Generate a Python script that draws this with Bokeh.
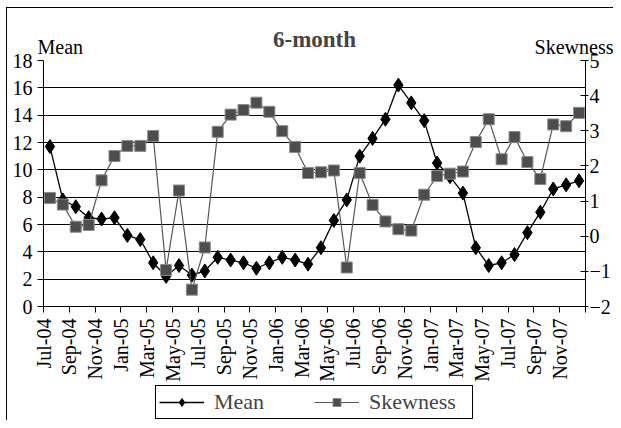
import math
from bokeh.plotting import figure
from bokeh.layouts import column
from bokeh.models import (Range1d, LinearAxis, FixedTicker, Legend, LegendItem)
from bokeh.embed import file_html
from bokeh.resources import INLINE

months = ["Jul-04", "Aug-04", "Sep-04", "Oct-04", "Nov-04", "Dec-04",
          "Jan-05", "Feb-05", "Mar-05", "Apr-05", "May-05", "Jun-05",
          "Jul-05", "Aug-05", "Sep-05", "Oct-05", "Nov-05", "Dec-05",
          "Jan-06", "Feb-06", "Mar-06", "Apr-06", "May-06", "Jun-06",
          "Jul-06", "Aug-06", "Sep-06", "Oct-06", "Nov-06", "Dec-06",
          "Jan-07", "Feb-07", "Mar-07", "Apr-07", "May-07", "Jun-07",
          "Jul-07", "Aug-07", "Sep-07", "Oct-07", "Nov-07", "Dec-07"]

mean = [11.7, 7.8, 7.3, 6.5, 6.4, 6.5, 5.2, 4.9, 3.2, 2.2, 3.0, 2.3,
        2.6, 3.6, 3.4, 3.2, 2.8, 3.2, 3.6, 3.4, 3.1, 4.3, 6.3, 7.8,
        11.0, 12.3, 13.7, 16.2, 14.9, 13.6, 10.5, 9.5, 8.3, 4.3, 3.0, 3.2,
        3.8, 5.4, 6.9, 8.6, 8.9, 9.2]

skewness = [1.09, 0.90, 0.27, 0.32, 1.59, 2.28, 2.57, 2.57, 2.85, -0.96, 1.30, -1.52,
            -0.32, 2.97, 3.46, 3.59, 3.80, 3.54, 2.99, 2.54, 1.80, 1.82, 1.87, -0.89,
            1.80, 0.89, 0.42, 0.20, 0.16, 1.18, 1.71, 1.78, 1.84, 2.68, 3.33, 2.19,
            2.82, 2.11, 1.63, 3.18, 3.13, 3.51]

mean_ticks = list(range(0, 19, 2))
skew_ticks = list(range(-2, 6))
title_text = "6-month"
left_title = "Mean"
right_title = "Skewness"

FONT = "Liberation Serif"

x = [i + 0.5 for i in range(len(months))]
n = len(months)

p = figure(width=613, height=384, output_backend="svg", toolbar_location=None,
           x_range=Range1d(0, n), y_range=Range1d(0, 18),
           min_border_left=43, min_border_right=20, min_border_top=60,
           min_border_bottom=78, outline_line_color=None,
           border_fill_alpha=0, background_fill_color="white")
p.extra_y_ranges = {"skew": Range1d(-2, 5)}

xa = p.below[0]
ya = p.left[0]

# title
p.title.text = title_text
p.title.align = "center"
p.title.text_font = FONT
p.title.text_font_size = "23px"
p.title.text_font_style = "bold"
p.title.standoff = -38

# axis titles as a label-only axis above the frame
ta = LinearAxis(ticker=FixedTicker(ticks=[1.3, 42.0]),
                major_label_overrides={1.3: left_title, 42.0: right_title})
ta.axis_line_color = None
ta.major_tick_line_color = None
ta.minor_tick_line_color = None
ta.major_tick_in = 0
ta.major_tick_out = 0
ta.major_label_standoff = 3
ta.major_label_text_font = FONT
ta.major_label_text_font_size = "20px"
ta.major_label_text_color = "black"
p.add_layout(ta, "above")

# x axis
xt = list(range(0, n + 1, 2))
xa.ticker = FixedTicker(ticks=xt)
xa.major_label_overrides = {t: (months[t] if t < n else "") for t in xt}
xa.major_label_orientation = math.pi / 2
xa.minor_tick_line_color = None
xa.major_tick_in = 0
xa.major_tick_out = 6
xa.major_label_standoff = 6

# left axis
ya.ticker = FixedTicker(ticks=mean_ticks)
ya.minor_tick_line_color = None
ya.major_tick_in = 0
ya.major_tick_out = 6
ya.major_label_standoff = 5

# right axis
ra = LinearAxis(y_range_name="skew", ticker=FixedTicker(ticks=skew_ticks))
ra.minor_tick_line_color = None
ra.major_tick_in = 5
ra.major_tick_out = 3
ra.major_label_standoff = 1
p.add_layout(ra, "right")

for ax in [xa, ya, ra]:
    ax.major_label_text_font = FONT
    ax.major_label_text_font_size = "20px"
    ax.major_label_text_color = "black"
    ax.axis_line_color = "black"
    ax.major_tick_line_color = "black"

p.xgrid.grid_line_color = None
p.ygrid.grid_line_color = "black"
p.ygrid.grid_line_width = 1

# series
MEAN_STYLE = dict(line_color="black", line_width=1.3)
MEAN_MARK = dict(marker="diamond", size=14, fill_color="black", line_color="black")
SKEW_STYLE = dict(line_color="#555555", line_width=1.2)
SKEW_MARK = dict(marker="square", size=11, fill_color="#4d4d4d", line_color="#8a8a8a", line_width=1)

p.line(x, mean, **MEAN_STYLE)
p.scatter(x, mean, **MEAN_MARK)
p.line(x, skewness, y_range_name="skew", **SKEW_STYLE)
p.scatter(x, skewness, y_range_name="skew", **SKEW_MARK)

# legend strip below the chart (series re-drawn out of view as legend proxies)
p2 = figure(width=613, height=36, output_backend="svg", toolbar_location=None,
            x_range=Range1d(0, n), y_range=Range1d(-100, -99),
            x_axis_type=None, y_axis_type=None, min_border=0,
            outline_line_color=None, border_fill_alpha=0, background_fill_alpha=0)
p2.xgrid.grid_line_color = None
p2.ygrid.grid_line_color = None
l1 = p2.line(x, mean, **MEAN_STYLE)
m1 = p2.scatter(x, mean, **MEAN_MARK)
l2 = p2.line(x, skewness, **SKEW_STYLE)
m2 = p2.scatter(x, skewness, **SKEW_MARK)
legend = Legend(items=[LegendItem(label=left_title, renderers=[l1, m1]),
                       LegendItem(label=right_title, renderers=[l2, m2])],
                orientation="horizontal", location="center",
                label_text_font=FONT, label_text_font_size="22px",
                glyph_width=45, label_standoff=10, label_width=100, spacing=0,
                padding=3, border_line_color="black", border_line_width=1,
                border_line_alpha=1, background_fill_color="white",
                background_fill_alpha=1, margin=0)
p2.add_layout(legend, "center")

layout = column(p, p2, spacing=0, styles={
    "background-image": "linear-gradient(black, black), linear-gradient(black, black)",
    "background-size": "1px 100%, 100% 1px",
    "background-position": "6px 7px, 6px 7px",
    "background-repeat": "no-repeat",
})

open("out.html", "w").write(file_html(layout, INLINE))
